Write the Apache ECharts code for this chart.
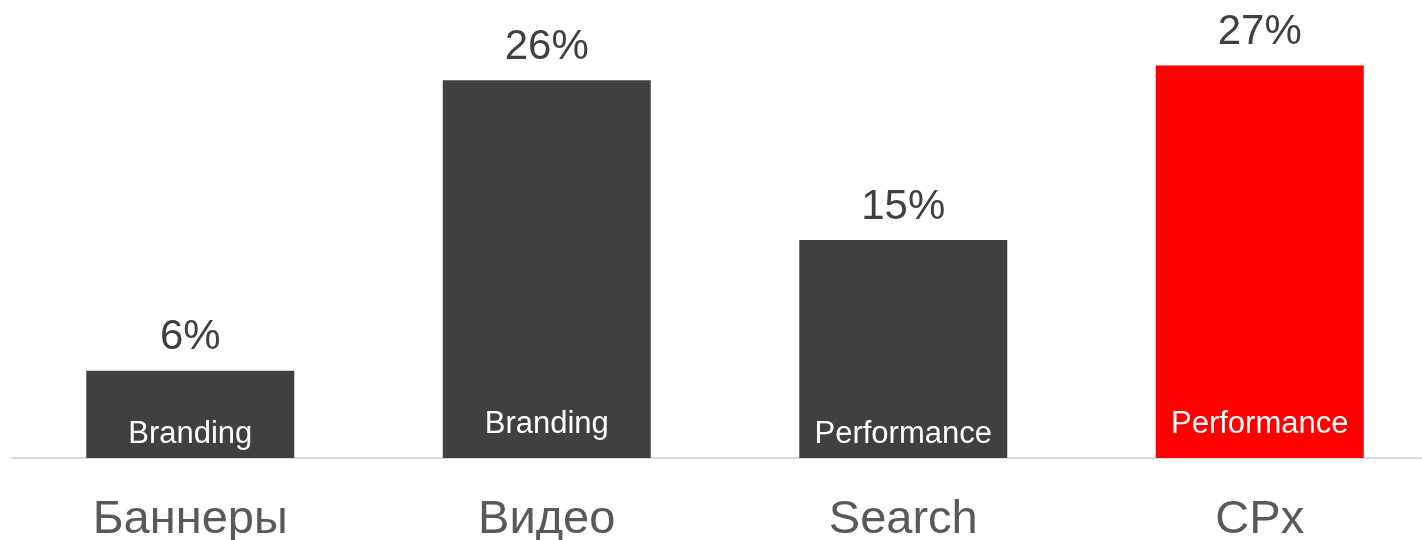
<!DOCTYPE html>
<html>
<head>
<meta charset="utf-8">
<script src="https://cdn.jsdelivr.net/npm/echarts@6/dist/echarts.min.js"></script>
<style>
    html, body {margin: 0; padding: 0; background: #fff;}
    #chart {width: 1422px; height: 540px;}
</style>
</head>
<body>
<div id="chart"></div>
<script>
// данные
var categories = ['Баннеры', 'Видео', 'Search', 'CPx'];
var shares = [6, 26, 15, 27];
var innerLabels = ['Branding', 'Branding', 'Performance', 'Performance'];
var innerLift = [0, 10, 0, 10]; // Видео и CPx подписаны чуть выше
var barColors = ['#404040', '#404040', '#404040', '#ff0000'];

var chart = echarts.init(document.getElementById('chart'));

var mainData = shares.map(function (v, i) {
    return {value: v, itemStyle: {color: barColors[i]}};
});
var overlayData = shares.map(function (v, i) {
    return {
        value: v,
        label: {distance: 8 + innerLift[i]}
    };
});

chart.setOption({
    animation: false,
    grid: {
        left: 12,
        right: -16,
        top: 22,
        bottom: 82,
        outerBoundsMode: 'none'
    },
    xAxis: {
        type: 'category',
        data: categories,
        axisLine: {lineStyle: {color: '#d9d9d9', width: 2}},
        axisTick: {show: false},
        axisLabel: {
            margin: 39,
            color: '#595959',
            fontSize: 47,
            fontFamily: 'Liberation Sans'
        }
    },
    yAxis: {
        type: 'value',
        min: 0,
        max: 30,
        show: false
    },
    series: [
        {
            name: 'share',
            type: 'bar',
            barWidth: 208,
            data: mainData,
            label: {
                show: true,
                position: 'top',
                distance: 12,
                formatter: '{c}%',
                color: '#404040',
                fontSize: 42,
                fontFamily: 'Liberation Sans'
            }
        },
        {
            name: 'type',
            type: 'bar',
            barWidth: 208,
            barGap: '-100%',
            silent: true,
            itemStyle: {color: 'rgba(0,0,0,0)'},
            data: overlayData,
            label: {
                show: true,
                position: 'insideBottom',
                formatter: function (p) {
                    return innerLabels[p.dataIndex];
                },
                color: '#ffffff',
                fontSize: 31,
                fontFamily: 'Liberation Sans'
            }
        }
    ]
});

window.onresize = function () {
    chart.resize();
};
</script>
</body>
</html>
